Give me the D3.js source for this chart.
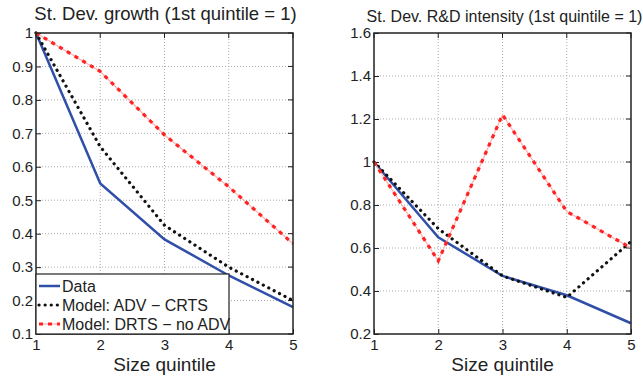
<!DOCTYPE html>
<html><head><meta charset="utf-8">
<script src="https://cdnjs.cloudflare.com/ajax/libs/d3/7.8.5/d3.min.js"></script>
<style>body{margin:0;background:#fff;} text{font-family:"Liberation Sans",Arial,sans-serif;fill:#222;}</style>
</head><body><svg id="c" width="643" height="376"></svg>
<script>
const quintiles = [1, 2, 3, 4, 5];
const growthData = [1, 0.55, 0.383, 0.275, 0.18];
const growthADV = [1, 0.66, 0.425, 0.30, 0.20];
const growthDRTS = [1, 0.885, 0.695, 0.54, 0.37];
const rdData = [1, 0.65, 0.47, 0.38, 0.25];
const rdADV = [1, 0.69, 0.47, 0.37, 0.63];
const rdDRTS = [1, 0.54, 1.22, 0.77, 0.60];
const growthTicks = [0.1, 0.2, 0.3, 0.4, 0.5, 0.6, 0.7, 0.8, 0.9, 1];
const rdTicks = [0.2, 0.4, 0.6, 0.8, 1, 1.2, 1.4, 1.6];
const legendLabels = ["Data", "Model: ADV \u2212 CRTS", "Model: DRTS \u2212 no ADV"];

const svg = d3.select("#c");
const styles = [
  {color:"#2f4fa8", width:2.5, dash:null},
  {color:"#111", width:3.2, dash:"0.1,6", cap:"round"},
  {color:"#ff2222", width:3.2, dash:"4,5", under:"#ffb0b0"}
];

function panel(x0, x1, yDomain, ticks, series, title, titleSize, titleX, titleY, legend, tickFmt){
  const top = 33, bottom = 334;
  const x = d3.scaleLinear().domain([1,5]).range([x0,x1]);
  const y = d3.scaleLinear().domain(yDomain).range([bottom, top]);
  const g = svg.append("g");
  // grid
  g.selectAll(".gx").data(quintiles.slice(1,-1)).join("line")
    .attr("x1", d=>x(d)).attr("x2", d=>x(d)).attr("y1", top).attr("y2", bottom)
    .attr("stroke","#aaa").attr("stroke-width",1).attr("stroke-dasharray","1,2");
  g.selectAll(".gy").data(ticks.slice(1,-1)).join("line")
    .attr("x1", x0).attr("x2", x1).attr("y1", d=>y(d)).attr("y2", d=>y(d))
    .attr("stroke","#aaa").attr("stroke-width",1).attr("stroke-dasharray","1,2");
  // axes
  const ax = d3.axisBottom(x).tickValues(quintiles).tickSize(-5).tickPadding(6).tickFormat(d3.format("d"));
  const gx = g.append("g").attr("transform",`translate(0,${bottom})`).call(ax);
  const ay = d3.axisLeft(y).tickValues(ticks).tickSize(-5).tickPadding(3).tickFormat(tickFmt);
  const gy = g.append("g").attr("transform",`translate(${x0},0)`).call(ay);
  [gx,gy].forEach(a=>{
    a.select(".domain").remove();
    a.selectAll("line").attr("stroke","#222");
    a.selectAll("text").attr("font-size",15).attr("fill","#222").style("font-family","Liberation Sans, Arial, sans-serif");
  });
  gx.selectAll("text").attr("dy",null).attr("y",16);
  // right/top ticks
  g.selectAll(".rt").data(ticks).join("line").attr("x1",x1).attr("x2",x1-5).attr("y1",d=>y(d)).attr("y2",d=>y(d)).attr("stroke","#222");
  g.selectAll(".tt").data(quintiles).join("line").attr("x1",d=>x(d)).attr("x2",d=>x(d)).attr("y1",top).attr("y2",top+5).attr("stroke","#222");
  // lines
  const line = d3.line().x((d,i)=>x(quintiles[i])).y(d=>y(d));
  series.forEach((s,i)=>{
    const st = styles[i];
    if(st.under){
      g.append("path").attr("d",line(s)).attr("fill","none").attr("stroke",st.under).attr("stroke-width",1.2);
    }
    const p = g.append("path").attr("d",line(s)).attr("fill","none").attr("stroke",st.color).attr("stroke-width",st.width);
    if(st.dash) p.attr("stroke-dasharray",st.dash);
    if(st.cap) p.attr("stroke-linecap",st.cap);
  });
  // box
  g.append("rect").attr("x",x0).attr("y",top).attr("width",x1-x0).attr("height",bottom-top)
    .attr("fill","none").attr("stroke","#222").attr("stroke-width",1.5);
  // title
  g.append("text").attr("x",titleX).attr("y",titleY).attr("text-anchor","middle")
    .attr("font-size",titleSize).text(title);
  g.append("text").attr("x",(x0+x1)/2).attr("y",371).attr("text-anchor","middle").attr("font-size",19).text("Size quintile");
  if(legend){
    const lx = x0, ly = 274, lw = 193, lh = bottom-ly;
    const lg = g.append("g");
    lg.append("rect").attr("x",lx).attr("y",ly).attr("width",lw).attr("height",lh).attr("fill","#fff").attr("stroke","#222").attr("stroke-width",1.2);
    legendLabels.forEach((t,i)=>{
      const yy = ly + 12 + i*19;
      const st = styles[i];
      if(st.under) lg.append("line").attr("x1",lx+3).attr("x2",lx+24).attr("y1",yy).attr("y2",yy).attr("stroke",st.under).attr("stroke-width",1.2);
      const l = lg.append("line").attr("x1",lx+3).attr("x2",lx+24).attr("y1",yy).attr("y2",yy).attr("stroke",st.color).attr("stroke-width",st.width);
      if(st.dash) l.attr("stroke-dasharray",st.dash);
      if(st.cap) l.attr("stroke-linecap",st.cap);
      lg.append("text").attr("x",lx+26).attr("y",yy+5.5).attr("font-size",16).attr("textLength",null).text(t);
    });
  }
}
panel(36, 293, [0.1,1], growthTicks, [growthData, growthADV, growthDRTS], "St. Dev. growth (1st quintile = 1)", 18.5, 165.5, 20, true, d=>d===1?"1":d3.format(".1f")(d));
panel(374, 631, [0.2,1.6], rdTicks, [rdData, rdADV, rdDRTS], "St. Dev. R&D intensity (1st quintile = 1)", 16, 504.5, 22, false, d=>d===1?"1":d3.format(".1f")(d));
</script></body></html>
